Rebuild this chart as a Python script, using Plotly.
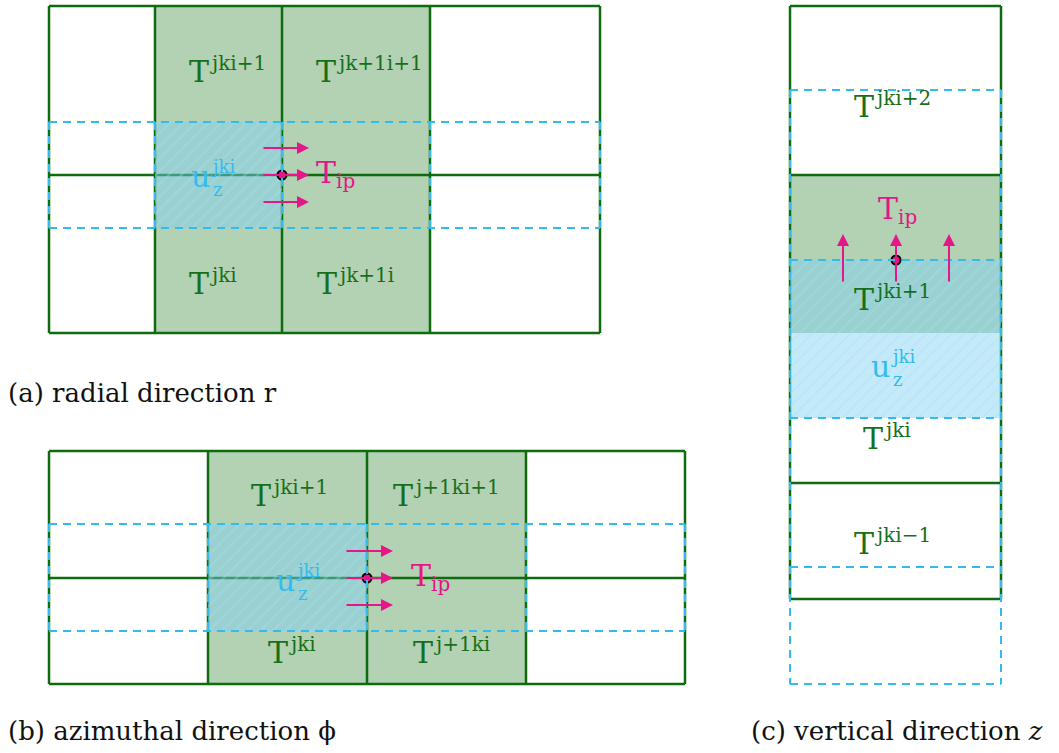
import plotly.graph_objects as go

# ---- grid geometry (pixel units of the drawing canvas) ----
W, H = 1059, 753

# panel (a): radial direction
A_COLS = [49, 155, 282, 430, 600]
A_ROWS = [6, 175, 333]
A_FILL_COLS = [155, 430]
A_DASH_ROWS = [122, 228]
A_HATCH = [155, 282, 122, 228]
A_NODE = [282, 175]
A_ARROW_Y = [148, 175, 202]
A_ARROW_X = [262, 309]

# panel (b): azimuthal direction
B_COLS = [49, 208, 367, 526, 685]
B_ROWS = [451, 578, 684]
B_FILL_COLS = [208, 526]
B_DASH_ROWS = [524, 631]
B_HATCH = [208, 367, 524, 631]
B_NODE = [367, 578]
B_ARROW_Y = [551, 578, 605]
B_ARROW_X = [345, 393]

# panel (c): vertical direction
C_COLS = [790, 1001]
C_ROWS = [6, 175, 483, 599]
C_FILL_ROWS = [175, 333]
C_DASH_ROWS = [90, 260, 418, 567, 684]
C_HATCH = [790, 1001, 260, 418]
C_NODE = [896, 260]
C_ARROW_X = [843, 896, 949]
C_ARROW_Y = [283, 234]

# cell labels: base, superscript, subscript, left x, middle y
LABELS = [
    ("T", "jki+1", "", 188, 71),
    ("T", "jk+1i+1", "", 315, 71),
    ("T", "jki", "", 188, 283),
    ("T", "jk+1i", "", 316, 283),
    ("T", "", "ip", 315, 172),
    ("u", "jki", "z", 190, 176),
    ("T", "jki+1", "", 250, 495),
    ("T", "j+1ki+1", "", 392, 495),
    ("T", "jki", "", 267, 652),
    ("T", "j+1ki", "", 412, 652),
    ("T", "", "ip", 410, 575),
    ("u", "jki", "z", 275, 580),
    ("T", "jki+2", "", 853, 106),
    ("T", "jki+1", "", 853, 299),
    ("T", "jki", "", 862, 438),
    ("T", "jki\u22121", "", 853, 543),
    ("T", "", "ip", 877, 208),
    ("u", "jki", "z", 870, 366),
]

CAPTIONS = [
    ("(a) radial direction r", 7, 393),
    ("(b) azimuthal direction \u03d5", 7, 731),
    ("(c) vertical direction <i>z</i>", 750, 731),
]

GREEN_LINE = "#0e6b0e"
GREEN_FILL = "#b3d1b3"
GREEN_TEXT = "#16701a"
BLUE = "#33bbee"
MAGENTA = "#e5158a"
MATH_FONT = "DejaVu Serif"
TEXT_FONT = "DejaVu Serif"

fig = go.Figure()
shapes = []
annotations = []


def rect_fill(x0, x1, y0, y1, color):
    shapes.append(dict(type="rect", x0=x0, x1=x1, y0=y0, y1=y1, xref="x", yref="y",
                       fillcolor=color, line=dict(width=0), layer="below"))


def seg(x0, y0, x1, y1, color, width, dash="solid", layer="below"):
    shapes.append(dict(type="line", x0=x0, y0=y0, x1=x1, y1=y1, xref="x", yref="y",
                       line=dict(color=color, width=width, dash=dash), layer=layer))


def green_grid(cols, rows):
    for y in rows:
        seg(cols[0], y, cols[-1], y, GREEN_LINE, 2.5)
    for x in cols:
        seg(x, rows[0], x, rows[-1], GREEN_LINE, 2.5)


def blue_band(cols, rows):
    for y in rows:
        seg(cols[0], y, cols[-1], y, BLUE, 2, "8px,6px", "above")
    for x in cols:
        seg(x, rows[0], x, rows[-1], BLUE, 2, "8px,6px", "above")


def hatch(x0, x1, y0, y1):
    fig.add_trace(go.Scatter(
        x=[x0, x1, x1, x0, x0], y=[y0, y0, y1, y1, y0],
        mode="lines", line=dict(width=0), fill="toself",
        fillcolor="rgba(125,208,245,0.45)",
        fillpattern=dict(shape="/", size=9, solidity=0.2,
                         fgcolor="rgba(165,222,246,0.8)",
                         bgcolor="rgba(125,208,245,0.45)"),
        hoverinfo="skip", showlegend=False))


def arrow(x0, y0, x1, y1):
    annotations.append(dict(x=x1, y=y1, ax=x0, ay=y0, xref="x", yref="y",
                            axref="x", ayref="y", text="", showarrow=True,
                            arrowhead=2, arrowsize=1.2, arrowwidth=2,
                            arrowcolor=MAGENTA, standoff=0, startstandoff=0))


def text(x, y, s, size, color, anchor="left", family=MATH_FONT):
    annotations.append(dict(x=x, y=y, xref="x", yref="y", text=s, showarrow=False,
                            xanchor=anchor, yanchor="middle", align="left",
                            borderpad=0,
                            font=dict(family=family, size=size, color=color)))


# panel (a)
rect_fill(A_FILL_COLS[0], A_FILL_COLS[1], A_ROWS[0], A_ROWS[-1], GREEN_FILL)
green_grid(A_COLS, A_ROWS)
blue_band(A_COLS, A_DASH_ROWS)
hatch(*A_HATCH)
for y in A_ARROW_Y:
    arrow(A_ARROW_X[0], y, A_ARROW_X[1], y)

# panel (b)
rect_fill(B_FILL_COLS[0], B_FILL_COLS[1], B_ROWS[0], B_ROWS[-1], GREEN_FILL)
green_grid(B_COLS, B_ROWS)
blue_band(B_COLS, B_DASH_ROWS)
hatch(*B_HATCH)
for y in B_ARROW_Y:
    arrow(B_ARROW_X[0], y, B_ARROW_X[1], y)

# panel (c)
rect_fill(C_COLS[0], C_COLS[1], C_FILL_ROWS[0], C_FILL_ROWS[1], GREEN_FILL)
green_grid(C_COLS, C_ROWS)
blue_band(C_COLS, C_DASH_ROWS)
hatch(*C_HATCH)
for x in C_ARROW_X:
    arrow(x, C_ARROW_Y[0], x, C_ARROW_Y[1])

# interface nodes
nodes = [A_NODE, B_NODE, C_NODE]
fig.add_trace(go.Scatter(
    x=[n[0] for n in nodes], y=[n[1] for n in nodes], mode="markers",
    marker=dict(size=9, color=MAGENTA, line=dict(color="black", width=2)),
    hoverinfo="skip", showlegend=False))

# cell labels
for base, sup, sub, x, y in LABELS:
    is_u = base == "u"
    is_tip = sub == "ip"
    color = BLUE if is_u else (MAGENTA if is_tip else GREEN_TEXT)
    text(x, y, base, 30, color)
    bw = 20
    if sup and sub:
        # stacked super/subscript block
        text(x + bw, y + 2, sup + "<br>" + sub, 18, color)
    elif sup:
        text(x + bw + 1, y - 8, sup, 20, color)
    elif sub:
        text(x + bw, y + 9, sub, 20, color)

# captions
for s, x, y in CAPTIONS:
    text(x, y, s, 26, "#111111", family=TEXT_FONT)

fig.update_layout(
    width=W, height=H, margin=dict(l=0, r=0, t=0, b=0),
    paper_bgcolor="white", plot_bgcolor="white",
    xaxis=dict(range=[0, W], visible=False, fixedrange=True),
    yaxis=dict(range=[H, 0], visible=False, fixedrange=True),
    shapes=shapes, annotations=annotations, showlegend=False,
)

fig.write_html("out.html")
